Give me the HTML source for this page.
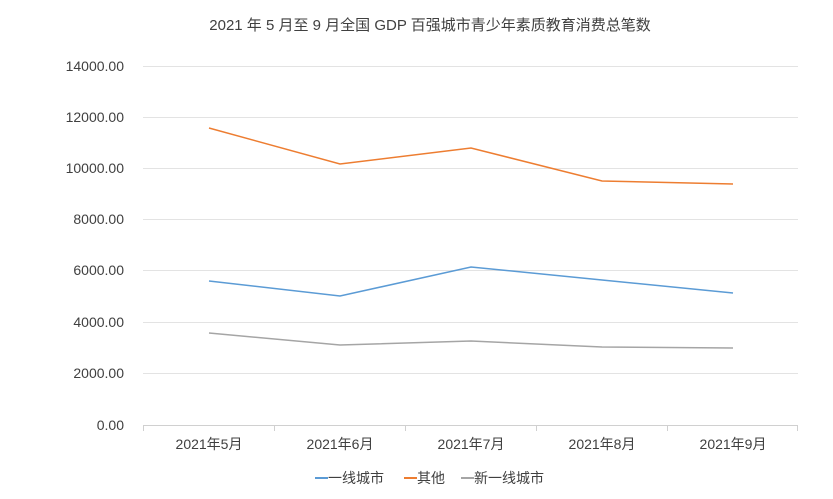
<!DOCTYPE html>
<html><head><meta charset="utf-8"><style>
body{margin:0;background:#fff;}
svg text{font-family:"Liberation Sans","Noto Sans CJK SC",sans-serif;fill:#404040;}
</style></head><body>
<svg width="833" height="494" viewBox="0 0 833 494" xmlns="http://www.w3.org/2000/svg">
<rect width="833" height="494" fill="#fff"/>
<text x="430" y="30" font-size="15" text-anchor="middle" fill="#333">2021 年 5 月至 9 月全国 GDP 百强城市青少年素质教育消费总笔数</text>
<g stroke="#e3e3e3" stroke-width="1">
<line x1="143" y1="66.5" x2="798" y2="66.5"/>
<line x1="143" y1="117.5" x2="798" y2="117.5"/>
<line x1="143" y1="168.5" x2="798" y2="168.5"/>
<line x1="143" y1="219.5" x2="798" y2="219.5"/>
<line x1="143" y1="270.5" x2="798" y2="270.5"/>
<line x1="143" y1="322.5" x2="798" y2="322.5"/>
<line x1="143" y1="373.5" x2="798" y2="373.5"/>
</g>
<g stroke="#d0d0d0" stroke-width="1">
<line x1="143" y1="425.5" x2="798" y2="425.5"/>
<line x1="143.5" y1="425" x2="143.5" y2="431"/>
<line x1="274.5" y1="425" x2="274.5" y2="431"/>
<line x1="405.5" y1="425" x2="405.5" y2="431"/>
<line x1="536.5" y1="425" x2="536.5" y2="431"/>
<line x1="667.5" y1="425" x2="667.5" y2="431"/>
<line x1="797.5" y1="425" x2="797.5" y2="431"/>
</g>
<g font-size="14" text-anchor="end">
<text x="124" y="71">14000.00</text>
<text x="124" y="122">12000.00</text>
<text x="124" y="173">10000.00</text>
<text x="124" y="224">8000.00</text>
<text x="124" y="275">6000.00</text>
<text x="124" y="327">4000.00</text>
<text x="124" y="378">2000.00</text>
<text x="124" y="430">0.00</text>
</g>
<g font-size="14" text-anchor="middle">
<text x="209" y="449">2021年5月</text>
<text x="340" y="449">2021年6月</text>
<text x="471" y="449">2021年7月</text>
<text x="602" y="449">2021年8月</text>
<text x="733" y="449">2021年9月</text>
</g>
<g fill="none" stroke-width="1.5">
<polyline stroke="#ed7d31" points="209,128 340,164 471,148 602,181 733,184"/>
<polyline stroke="#5b9bd5" points="209,281 340,296 471,267 602,280 733,293"/>
<polyline stroke="#a5a5a5" points="209,333 340,345 471,341 602,347 733,348"/>
</g>
<g font-size="14">
<line x1="315" y1="478" x2="328" y2="478" stroke="#5b9bd5" stroke-width="2"/>
<text x="328" y="483">一线城市</text>
<line x1="404" y1="478" x2="417" y2="478" stroke="#ed7d31" stroke-width="2"/>
<text x="417" y="483">其他</text>
<line x1="461" y1="478" x2="474" y2="478" stroke="#a5a5a5" stroke-width="2"/>
<text x="474" y="483">新一线城市</text>
</g>
</svg>
</body></html>
